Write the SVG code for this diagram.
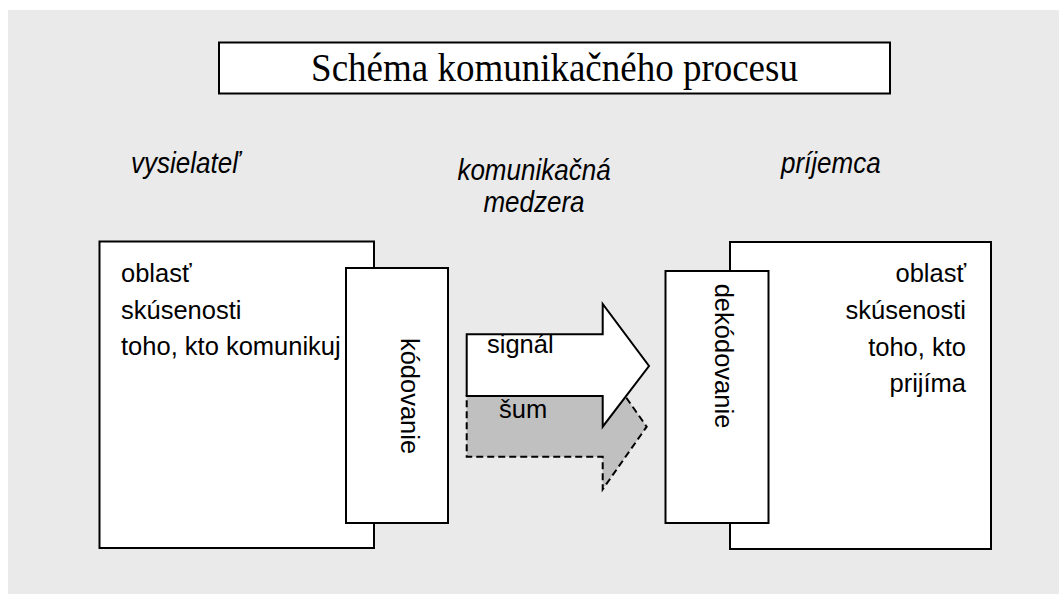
<svg xmlns="http://www.w3.org/2000/svg" width="1059" height="594" viewBox="0 0 1059 594">
  <style>
    .box { fill: #ffffff; stroke: #000000; stroke-width: 2; }
    .sans { font-family: "Liberation Sans", Arial, sans-serif; font-size: 25.5px; fill: #000000; }
    .ital { font-style: italic; font-size: 26px; }
    .title { font-family: "Liberation Serif", "Times New Roman", serif; font-size: 37px; fill: #000000; }
    .signal { fill: #ffffff; stroke: #000000; stroke-width: 2; }
    .noise { fill: #c0c0c0; stroke: #000000; stroke-width: 2; stroke-dasharray: 7 4; }
  </style>
  <rect x="0" y="0" width="1059" height="594" fill="#ffffff"/>
  <rect x="8" y="10" width="1051" height="584" fill="#eaeaea"/>

  <g id="title">
    <rect class="box" x="219" y="42.5" width="671" height="51"/>
    <text class="title" transform="translate(554.5,81) scale(1,1.06)" text-anchor="middle">Schéma komunikačného procesu</text>
  </g>

  <g id="label-sender">
    <text class="sans ital" transform="translate(131,173) scale(1,1.1)">vysielateľ</text>
  </g>
  <g id="label-gap">
    <text class="sans ital" transform="translate(534,179.5) scale(1,1.1)" text-anchor="middle">komunikačná</text>
    <text class="sans ital" transform="translate(534,212) scale(1,1.1)" text-anchor="middle">medzera</text>
  </g>
  <g id="label-receiver">
    <text class="sans ital" transform="translate(781,173) scale(1,1.1)">príjemca</text>
  </g>

  <g id="sender-field">
    <rect class="box" x="99.5" y="241.5" width="274.5" height="306.5"/>
    <text class="sans" x="121" y="282">oblasť</text>
    <text class="sans" x="121" y="318.5">skúsenosti</text>
    <text class="sans" x="121" y="355">toho, kto komunikuj</text>
  </g>
  <g id="encoding">
    <rect class="box" x="346" y="268" width="102" height="255"/>
    <text class="sans" transform="translate(401,396) rotate(90)" text-anchor="middle">kódovanie</text>
  </g>

  <g id="receiver-field">
    <rect class="box" x="730" y="242" width="261" height="307"/>
    <text class="sans" x="966" y="282" text-anchor="end">oblasť</text>
    <text class="sans" x="966" y="319" text-anchor="end">skúsenosti</text>
    <text class="sans" x="966" y="356" text-anchor="end">toho, kto</text>
    <text class="sans" x="966" y="392" text-anchor="end">prijíma</text>
  </g>
  <g id="decoding">
    <rect class="box" x="665.5" y="271" width="103" height="252"/>
    <text class="sans" transform="translate(715,356) rotate(90)" text-anchor="middle">dekódovanie</text>
  </g>

  <g id="connectors">
    <g id="noise">
      <polygon class="noise" points="466.7,396 602.7,396 602.7,364.1 646.7,426.7 602.7,489.3 602.7,456.7 466.7,456.7"/>
      <text class="sans" x="499" y="418">šum</text>
    </g>
    <g id="signal">
      <polygon class="signal" points="466.7,334.3 602.7,334.3 602.7,304 649,366 602.7,426.7 602.7,396 466.7,396"/>
      <text class="sans" x="487" y="353">signál</text>
    </g>
  </g>
</svg>
